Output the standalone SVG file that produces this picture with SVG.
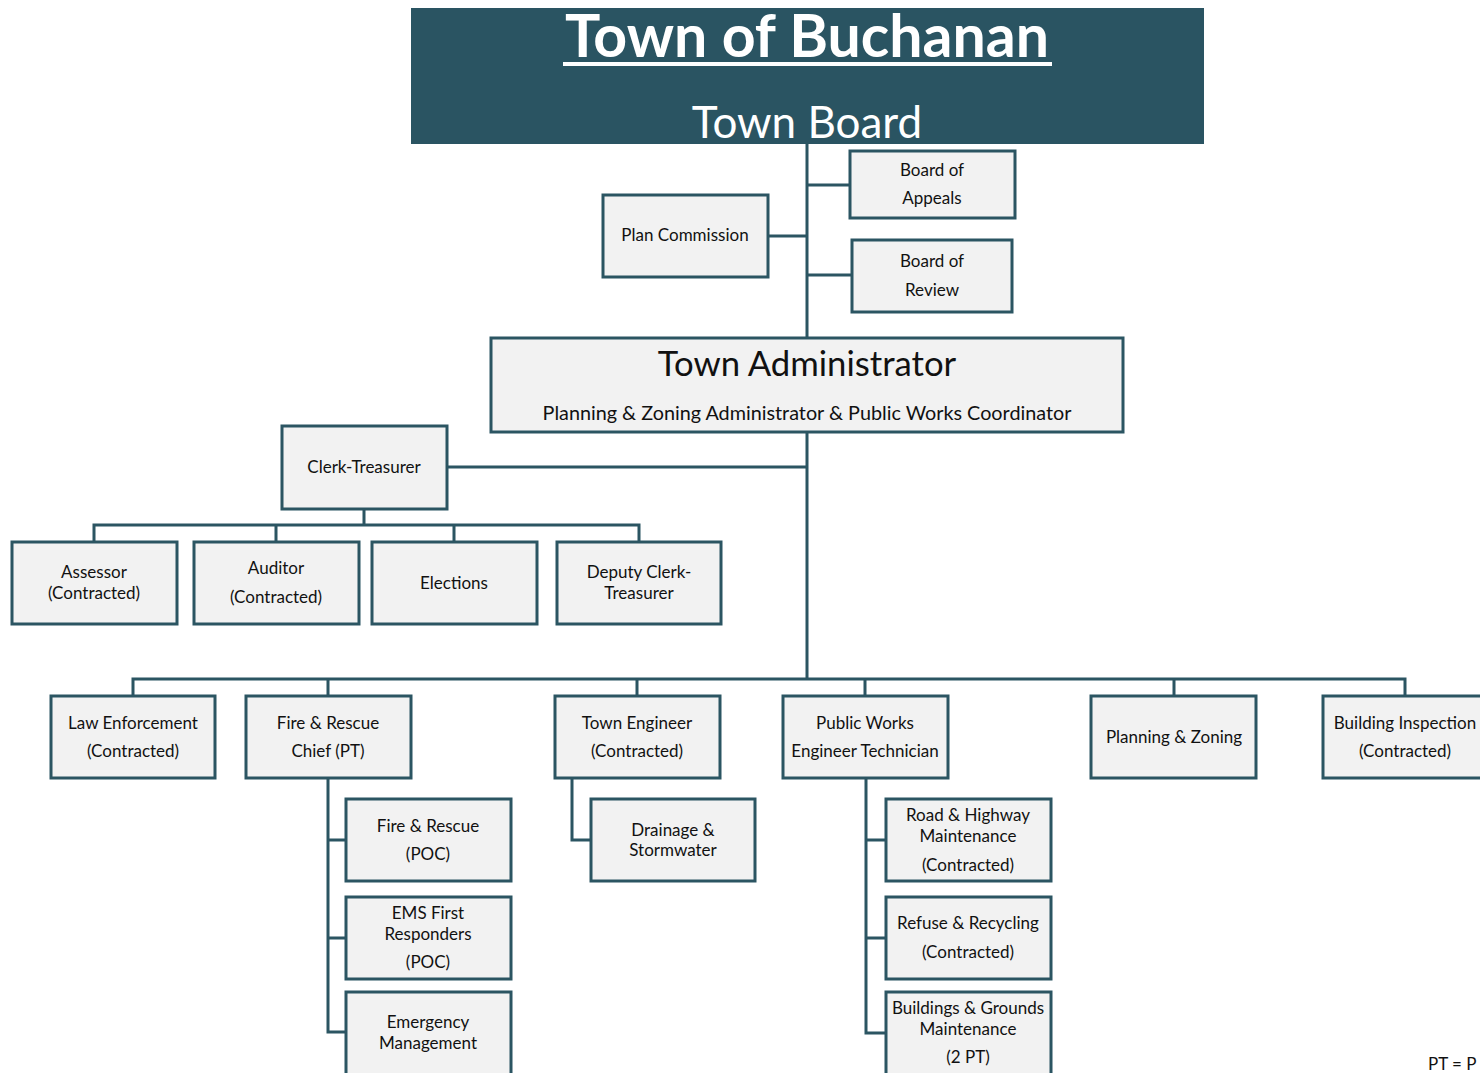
<svg xmlns="http://www.w3.org/2000/svg" width="1480" height="1073" viewBox="0 0 1480 1073">
<style>
.box{fill:#f2f2f2;stroke:#2b5562;stroke-width:3}
.ln{fill:none;stroke:#2b5562;stroke-width:3}
.t{font-family:Lato,"Open Sans","Liberation Sans",sans-serif;font-size:17px;fill:#111;text-anchor:middle}
</style>
<rect width="1480" height="1073" fill="#fff"/>
<g id="connectors">
<path class="ln" d="M807 144V680"/>
<path class="ln" d="M807 185H850M768 236H807M807 275H852"/>
<path class="ln" d="M447 467H807"/>
<path class="ln" d="M364 509V525M94 542V525H639V542M276 525V542M454 525V542"/>
<path class="ln" d="M133 696V679H1405V696M328 679V696M637 679V696M865 679V696M1174 679V696"/>
<path class="ln" d="M328 778V1032H346M328 840H346M328 938H346"/>
<path class="ln" d="M572 778V840H591"/>
<path class="ln" d="M866 778V1033H886M866 840H886M866 938H886"/>
</g>
<g id="town-board">
<rect x="411" y="8" width="793" height="136" fill="#2a5462"/>
<text x="807" y="57" style="font-family:Lato,'Open Sans','Liberation Sans',sans-serif;font-size:59px;font-weight:bold;fill:#fff;text-anchor:middle">Town of Buchanan</text>
<rect x="563" y="62" width="489" height="4" fill="#fff"/>
<text x="807" y="138" style="font-family:Lato,'Open Sans','Liberation Sans',sans-serif;font-size:44px;fill:#fff;text-anchor:middle">Town Board</text>
</g>
<g id="board-of-appeals"><rect class="box" x="850" y="151" width="165" height="67"/><text class="t" x="932" y="176">Board of</text><text class="t" x="932" y="204">Appeals</text></g>
<g id="plan-commission"><rect class="box" x="603" y="195" width="165" height="82"/><text class="t" x="685" y="241">Plan Commission</text></g>
<g id="board-of-review"><rect class="box" x="852" y="240" width="160" height="72"/><text class="t" x="932" y="267">Board of</text><text class="t" x="932" y="296">Review</text></g>
<g id="town-administrator"><rect class="box" x="491" y="338" width="632" height="94"/><text class="t" x="807" y="376" style="font-size:34.7px">Town Administrator</text><text class="t" x="807" y="420" style="font-size:19.8px">Planning &amp; Zoning Administrator &amp; Public Works Coordinator</text></g>
<g id="clerk-treasurer"><rect class="box" x="282" y="426" width="165" height="83"/><text class="t" x="364" y="473">Clerk-Treasurer</text></g>
<g id="assessor"><rect class="box" x="12" y="542" width="165" height="82"/><text class="t" x="94" y="578">Assessor</text><text class="t" x="94" y="599">(Contracted)</text></g>
<g id="auditor"><rect class="box" x="194" y="542" width="165" height="82"/><text class="t" x="276" y="574">Auditor</text><text class="t" x="276" y="603">(Contracted)</text></g>
<g id="elections"><rect class="box" x="372" y="542" width="165" height="82"/><text class="t" x="454" y="589">Elections</text></g>
<g id="deputy-clerk-treasurer"><rect class="box" x="557" y="542" width="164" height="82"/><text class="t" x="639" y="578">Deputy Clerk-</text><text class="t" x="639" y="599">Treasurer</text></g>
<g id="law-enforcement"><rect class="box" x="51" y="696" width="164" height="82"/><text class="t" x="133" y="729">Law Enforcement</text><text class="t" x="133" y="757">(Contracted)</text></g>
<g id="fire-rescue-chief"><rect class="box" x="246" y="696" width="165" height="82"/><text class="t" x="328" y="729">Fire &amp; Rescue</text><text class="t" x="328" y="757">Chief (PT)</text></g>
<g id="town-engineer"><rect class="box" x="555" y="696" width="165" height="82"/><text class="t" x="637" y="729">Town Engineer</text><text class="t" x="637" y="757">(Contracted)</text></g>
<g id="public-works"><rect class="box" x="783" y="696" width="165" height="82"/><text class="t" x="865" y="729">Public Works</text><text class="t" x="865" y="757">Engineer Technician</text></g>
<g id="planning-zoning"><rect class="box" x="1091" y="696" width="165" height="82"/><text class="t" x="1174" y="743">Planning &amp; Zoning</text></g>
<g id="building-inspection"><rect class="box" x="1323" y="696" width="165" height="82"/><text class="t" x="1405" y="729">Building Inspection</text><text class="t" x="1405" y="757">(Contracted)</text></g>
<g id="fire-rescue-poc"><rect class="box" x="346" y="799" width="165" height="82"/><text class="t" x="428" y="832">Fire &amp; Rescue</text><text class="t" x="428" y="860">(POC)</text></g>
<g id="ems"><rect class="box" x="346" y="897" width="165" height="82"/><text class="t" x="428" y="919">EMS First</text><text class="t" x="428" y="940">Responders</text><text class="t" x="428" y="968">(POC)</text></g>
<g id="emergency-management"><rect class="box" x="346" y="992" width="165" height="90"/><text class="t" x="428" y="1028">Emergency</text><text class="t" x="428" y="1049">Management</text></g>
<g id="drainage"><rect class="box" x="591" y="799" width="164" height="82"/><text class="t" x="673" y="836">Drainage &amp;</text><text class="t" x="673" y="856">Stormwater</text></g>
<g id="road-highway"><rect class="box" x="886" y="799" width="165" height="82"/><text class="t" x="968" y="821">Road &amp; Highway</text><text class="t" x="968" y="842">Maintenance</text><text class="t" x="968" y="871">(Contracted)</text></g>
<g id="refuse-recycling"><rect class="box" x="886" y="897" width="165" height="82"/><text class="t" x="968" y="929">Refuse &amp; Recycling</text><text class="t" x="968" y="958">(Contracted)</text></g>
<g id="buildings-grounds"><rect class="box" x="886" y="992" width="165" height="90"/><text class="t" x="968" y="1014">Buildings &amp; Grounds</text><text class="t" x="968" y="1035">Maintenance</text><text class="t" x="968" y="1063">(2 PT)</text></g>
<text x="1428" y="1070" style="font-family:Lato,'Open Sans','Liberation Sans',sans-serif;font-size:17px;fill:#111">PT = P</text>
</svg>
